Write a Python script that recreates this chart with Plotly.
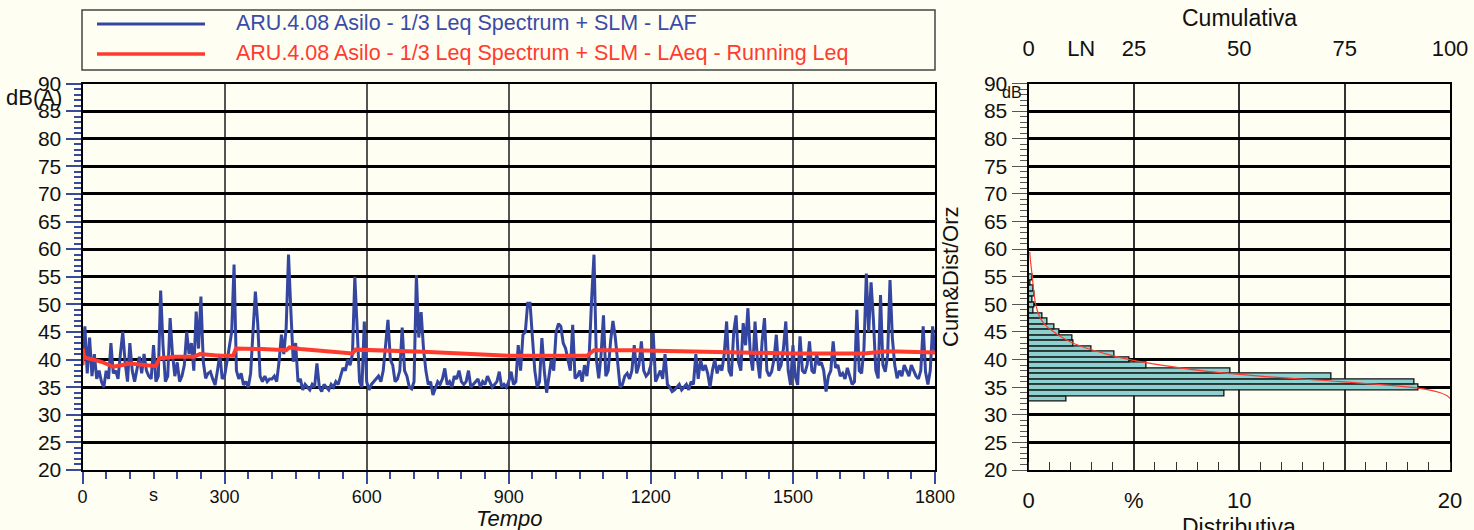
import numpy as np
import plotly.graph_objects as go

# ---------------- DATA ----------------
# LAF time history, one value every 5 s from 0 to 1800 s
laf_db = [
    39, 46, 37.5, 44, 37, 41, 36.5, 38, 36, 35, 38, 36.5, 43, 37.5, 38, 36.5, 41, 45, 39.5, 36,
    43, 38, 36, 38, 40.5, 37.5, 41, 38, 37, 36.5, 42.6, 36, 37, 52.5, 42.6, 36, 37, 47.5, 41, 37,
    39.5, 36, 37, 39, 45, 41, 43, 38, 48.7, 42, 51.4, 39.6, 36.6, 37.5, 37.8, 36.5, 35.4, 38, 41, 36.5,
    37, 39.6, 42, 45, 57.2, 38, 36.5, 37.5, 35.4, 36, 35, 37.5, 45, 52.3, 46.5, 37, 36, 37, 36, 36.5,
    36.5, 37, 36, 39.6, 44.5, 41, 45.7, 59, 48.7, 39.6, 43, 36, 36.5, 34.5, 35.5, 35, 34.5, 35.5, 35, 39.3,
    35, 34.2, 35.5, 35, 34.5, 35.5, 35, 36, 35.5, 37, 38.5, 38, 40, 39, 41, 55, 45.7, 36, 35, 46.9,
    36, 34.5, 35.5, 36, 36.5, 37, 36, 38, 42.6, 47.2, 40, 39, 36, 36.5, 38, 45.8, 38, 37, 35, 34.7,
    36, 55.3, 44, 48.6, 42, 38, 35.5, 36, 33.6, 35, 36, 35.5, 36.5, 38.4, 35.5, 36, 35, 37, 36.5, 38,
    36, 35.5, 36, 38, 35, 35.5, 36, 36.5, 35, 36, 35.5, 37, 36, 35, 35.5, 36, 37.8, 35, 35.5, 35,
    36, 37.8, 35.5, 36, 42.6, 38, 44.5, 45, 50.2, 50.2, 44, 38, 35, 36, 43.9, 38, 34, 37, 40, 38,
    45, 46.5, 46, 43, 42, 40, 38, 46.3, 36.6, 37, 38, 36, 39, 37, 41, 51, 59, 40, 36.6, 41,
    48, 37, 38, 43.3, 47, 44, 40, 35, 35.5, 37, 37.5, 36.5, 38, 42.6, 37.5, 39, 43.3, 38, 37, 37.5,
    39, 44.8, 36, 37, 38, 36.5, 41, 35.5, 35, 34.2, 34.5, 35, 35.5, 34.5, 35, 35.5, 34.5, 36, 35.5, 41,
    36.5, 40, 38, 39, 37.5, 35, 38, 40, 37.5, 39, 38, 41, 46.9, 38, 37, 45, 48, 39.6, 38, 46.6,
    42.6, 49.3, 41, 38, 46.9, 40, 36.6, 43.3, 47.5, 38, 37, 37.8, 40, 44.5, 38, 39, 42, 46.9, 38, 35.4,
    42.6, 37, 35.4, 44.2, 38, 37.5, 39, 43.3, 38, 37.5, 41, 39, 39.5, 38, 34.2, 37, 38, 43.3, 38.5, 39,
    37, 37.5, 36.5, 38.5, 37, 35.5, 36, 49, 38, 37.5, 42, 55.6, 45, 54, 47.2, 38, 36.6, 51.7, 39, 37.8,
    40.8, 54.4, 43.9, 39, 36.6, 38, 37, 39, 38, 37, 39, 38, 37, 36.5, 38, 46, 37.8, 35.5, 38, 46,
    41,
]
laf_step_s = 5

# Running Leq (time s, dB)
leq_time = [0, 1, 3, 8, 40, 65, 90, 100, 155, 162, 195, 235, 248, 290, 318, 324, 380, 430, 437,
            460, 570, 577, 720, 900, 1065, 1080, 1160, 1500, 1650, 1700, 1800]
leq_db = [39, 42, 40.5, 40.3, 39.6, 38.7, 39.1, 39.3, 38.8, 40.2, 40.5, 40.5, 41, 40.7, 40.7, 42,
          41.9, 41.7, 42.2, 41.9, 41.1, 41.8, 41.4, 40.7, 40.7, 41.7, 41.7, 41.1, 41.1, 41.5, 41.3]

# Distribution (1 dB classes): class centre (dB) and % of time
dist_level = [32.9, 33.9, 34.9, 35.9, 36.9, 37.9, 38.9, 39.9, 40.9, 41.9, 42.9, 43.9,
              44.9, 45.9, 46.9, 47.9, 48.9, 49.9, 50.9, 51.9, 52.9, 53.9, 54.9]
dist_pct = [1.8, 9.3, 18.5, 18.3, 14.4, 9.6, 5.6, 4.8, 4.1, 3.0, 2.15, 2.1,
            1.45, 1.25, 0.9, 0.65, 0.25, 0.3, 0.2, 0.28, 0.25, 0.1, 0.2]

# Cumulative curve (level dB, % exceeded)
cum_level = [59.5, 58, 57, 55, 52, 50, 48, 47, 46, 45, 44, 43, 42, 41, 40, 39, 38, 37, 36, 35,
             34.5, 34, 33.5, 33.0]
cum_pct = [0.3, 0.45, 0.6, 0.9, 1.3, 1.7, 2.5, 3.2, 4.3, 6.0, 8.0, 10.5, 14, 18.5, 24, 31.5, 41, 55,
           74, 90.5, 95, 97.7, 99.2, 100]

x_ticks = [0, 300, 600, 900, 1200, 1500, 1800]
y_ticks = list(range(20, 95, 5))
dist_ticks = [0, 5, 10, 15, 20]
dist_ticktext = ["0", "%", "10", "", "20"]
cum_ticks = [0, 12.5, 25, 50, 75, 100]
cum_ticktext = ["0", "LN", "25", "50", "75", "100"]

name_laf = "ARU.4.08 Asilo - 1/3 Leq Spectrum + SLM - LAF"
name_leq = "ARU.4.08 Asilo - 1/3 Leq Spectrum + SLM - LAeq - Running Leq"

# ---------------- STYLE ----------------
W, H = 1474, 530
BG = "#FEFEF2"
BLUE = "#3446A0"
RED = "#FF3B2F"
FONT = "Liberation Sans, Arial, sans-serif"
TICKBLUE = "#3A4A9A"

def px(xp):
    return xp / W

def py(yp):
    return 1 - yp / H

left_dom = [px(82.5), px(935)]
right_dom = [px(1028.5), px(1450)]
y_dom = [py(470), py(83.5)]

laf_time = np.arange(len(laf_db)) * laf_step_s

fig = go.Figure()
fig.add_trace(go.Scatter(x=laf_time, y=laf_db, mode="lines", name=name_laf,
                         line=dict(color=BLUE, width=3), xaxis="x", yaxis="y", showlegend=False))
fig.add_trace(go.Scatter(x=leq_time, y=leq_db, mode="lines", name=name_leq,
                         line=dict(color=RED, width=4), xaxis="x", yaxis="y", showlegend=False))
fig.add_trace(go.Bar(y=dist_level, x=dist_pct, orientation="h", width=1.0,
                     marker=dict(color="#8CD0CF", line=dict(color="#111111", width=1.3)),
                     xaxis="x2", yaxis="y2", showlegend=False))
fig.add_trace(go.Scatter(x=cum_pct, y=cum_level, mode="lines", line=dict(color=RED, width=1.2, shape="spline"),
                         xaxis="x3", yaxis="y2", showlegend=False))

fig.update_layout(
    width=W, height=H, margin=dict(l=0, r=0, t=0, b=0, autoexpand=False),
    paper_bgcolor=BG, plot_bgcolor=BG,
    font=dict(family=FONT, color="#111111"),
    bargap=0,
    xaxis=dict(domain=left_dom, range=[0, 1800], tickmode="array", tickvals=x_ticks,
               ticks="outside", ticklen=12, tickwidth=1.5, tickcolor=TICKBLUE,
               tickfont=dict(size=18, color="#111111"), ticklabelstandoff=-3,
               showgrid=True, gridcolor="#555555", gridwidth=1.5,
               minor=dict(tickmode="linear", tick0=0, dtick=50, ticks="outside", ticklen=7,
                          tickwidth=1.5, tickcolor=TICKBLUE, showgrid=False),
               showline=True, linecolor="#000000", linewidth=2, mirror=True,
               zeroline=False, anchor="y", automargin=False),
    yaxis=dict(domain=y_dom, range=[20, 90], tickmode="array", tickvals=y_ticks,
               ticks="outside", ticklen=15, tickwidth=1.5, tickcolor=TICKBLUE,
               tickfont=dict(size=21, color="#111111"), ticklabelstandoff=0,
               showgrid=True, gridcolor="#000000", gridwidth=2.5,
               minor=dict(tickmode="linear", tick0=20, dtick=1, ticks="outside", ticklen=7,
                          tickwidth=1.5, tickcolor=TICKBLUE, showgrid=False),
               showline=True, linecolor="#000000", linewidth=2, mirror=True,
               zeroline=False, anchor="x", automargin=False),
    xaxis2=dict(domain=right_dom, range=[0, 20], tickmode="array", tickvals=dist_ticks,
                ticktext=dist_ticktext, ticks="", tickfont=dict(size=22, color="#111111"),
                ticklabelstandoff=10,
                showgrid=True, gridcolor="#333333", gridwidth=2,
                minor=dict(tickmode="linear", tick0=0, dtick=1, ticks="inside", ticklen=8,
                           tickwidth=1.3, tickcolor="#333333", showgrid=False),
                showline=True, linecolor="#000000", linewidth=2, mirror=True,
                zeroline=False, anchor="y2", automargin=False),
    xaxis3=dict(overlaying="x2", side="top", range=[0, 100], tickmode="array",
                tickvals=cum_ticks, ticktext=cum_ticktext, ticks="",
                tickfont=dict(size=22, color="#111111"), ticklabelstandoff=22,
                showgrid=False, showline=False, zeroline=False, anchor="y2", automargin=False),
    yaxis2=dict(domain=y_dom, range=[20, 90], tickmode="array", tickvals=y_ticks,
                ticks="outside", ticklen=15, tickwidth=1.3, tickcolor="#555555",
                tickfont=dict(size=21, color="#111111"), ticklabelstandoff=0,
                showgrid=True, gridcolor="#000000", gridwidth=2.5,
                minor=dict(tickmode="linear", tick0=20, dtick=1, ticks="outside", ticklen=7,
                           tickwidth=1.3, tickcolor="#555555", showgrid=False),
                showline=True, linecolor="#000000", linewidth=2, mirror=True,
                zeroline=False, anchor="x2", automargin=False),
)

# Legend box drawn by hand (wide box like the original)
fig.add_shape(type="rect", xref="paper", yref="paper", x0=px(82), x1=px(935), y0=py(70), y1=py(10),
              line=dict(color="#444444", width=1.5), fillcolor=BG, layer="below")
fig.add_shape(type="line", xref="paper", yref="paper", x0=px(97), x1=px(205), y0=py(24), y1=py(24),
              line=dict(color=BLUE, width=3))
fig.add_shape(type="line", xref="paper", yref="paper", x0=px(97), x1=px(205), y0=py(54), y1=py(54),
              line=dict(color=RED, width=3.5))
fig.add_annotation(text=name_laf, xref="paper", yref="paper", x=px(234), y=py(23),
                   xanchor="left", yanchor="middle", showarrow=False,
                   font=dict(size=21.5, color="#3A4BA8"))
fig.add_annotation(text=name_leq, xref="paper", yref="paper", x=px(234), y=py(53),
                   xanchor="left", yanchor="middle", showarrow=False,
                   font=dict(size=21.5, color=RED))

# Axis titles / units
fig.add_annotation(text="dB(A)", xref="paper", yref="paper", x=px(4), y=py(98),
                   xanchor="left", yanchor="middle", showarrow=False, font=dict(size=22))
fig.add_annotation(text="s", xref="x", yref="paper", x=150, y=py(495),
                   xanchor="center", yanchor="middle", showarrow=False, font=dict(size=18))
fig.add_annotation(text="<i>Tempo</i>", xref="x", yref="paper", x=900, y=py(518),
                   xanchor="center", yanchor="middle", showarrow=False, font=dict(size=22))
fig.add_annotation(text="Cumulativa", xref="x3", yref="paper", x=50, y=py(18),
                   xanchor="center", yanchor="middle", showarrow=False, font=dict(size=23))
fig.add_annotation(text="Distributiva", xref="x2", yref="paper", x=10, y=py(512),
                   xanchor="center", yanchor="top", showarrow=False, font=dict(size=23))
fig.add_annotation(text="dB", xref="paper", yref="paper", x=px(1012), y=py(93),
                   xanchor="center", yanchor="middle", showarrow=False, font=dict(size=16))
fig.add_annotation(text="Cum&Dist/Orz", xref="paper", yref="paper", x=px(950), y=py(276),
                   xanchor="center", yanchor="middle", textangle=-90, showarrow=False,
                   font=dict(size=22))

fig.write_html(
    "out.html",
    config={"displayModeBar": False},
    post_script=f"document.body.style.margin='0';document.body.style.background='{BG}';",
)
